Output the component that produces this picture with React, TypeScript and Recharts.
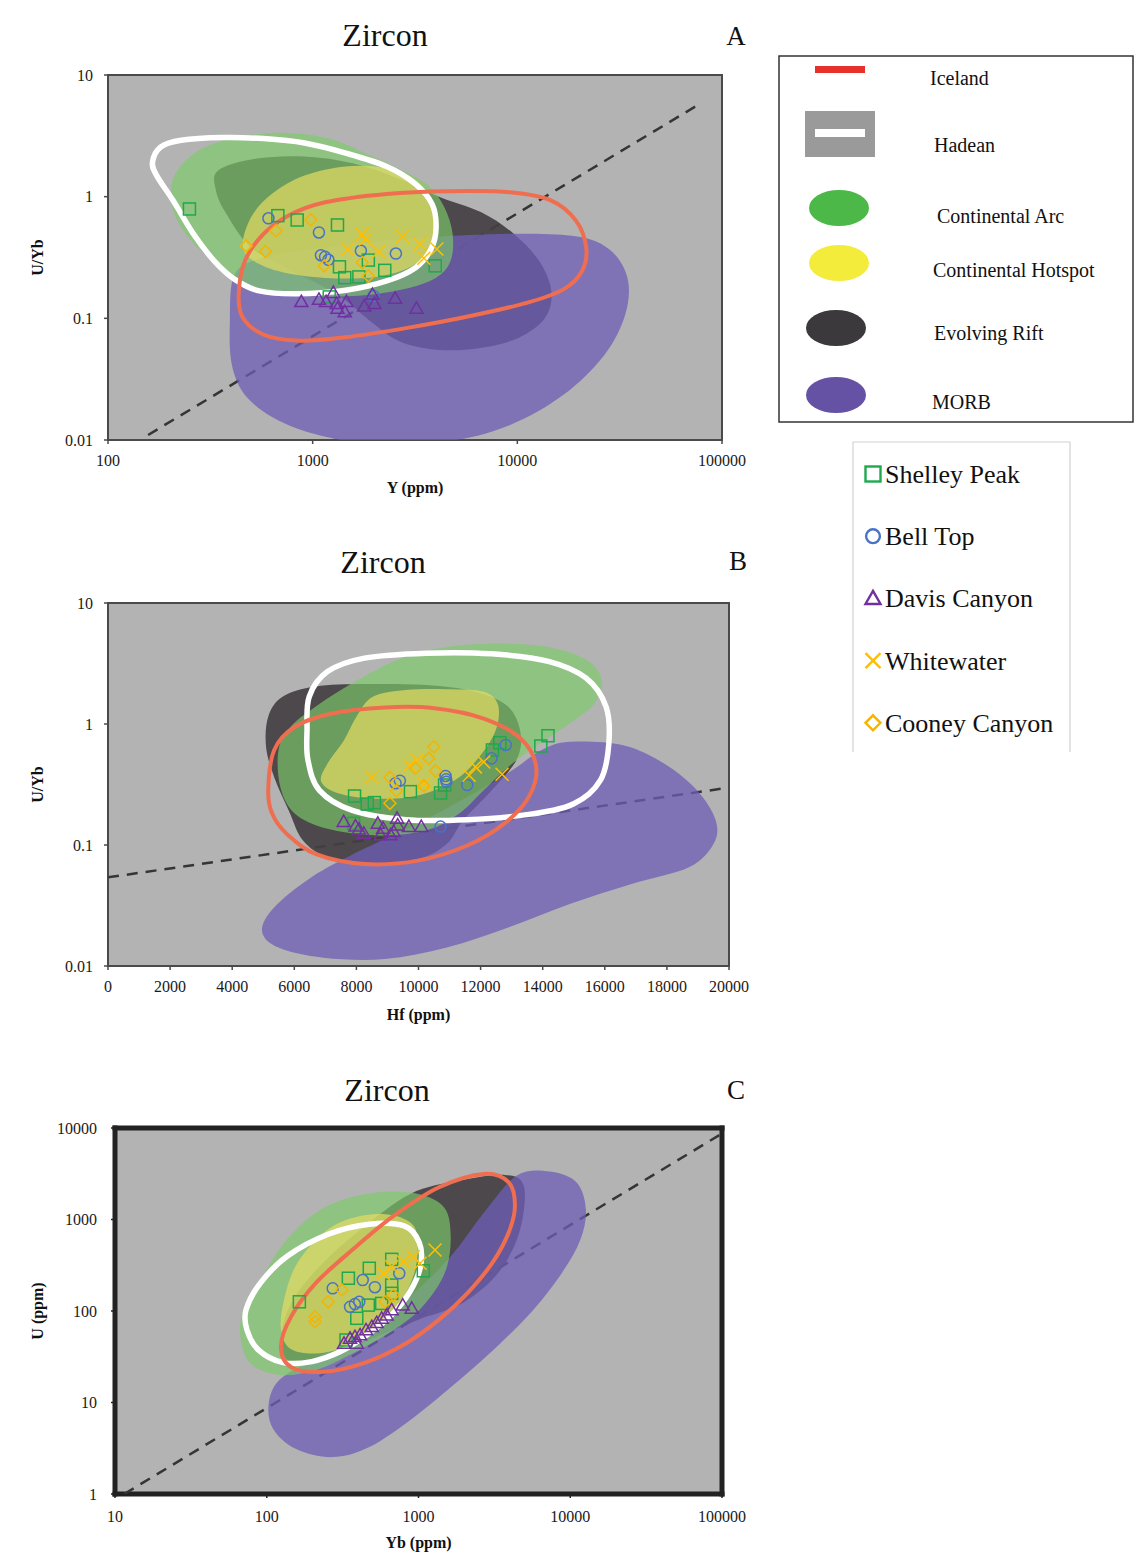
import React from 'react';
import { ScatterChart, Scatter, XAxis, YAxis, CartesianGrid, Label } from 'recharts';

type Pt = [number, number];

// ---------- Panel A : U/Yb vs Y (ppm) ----------
const aRift: Pt[] = [[345, 1.64], [524, 2.05], [912, 2.14], [1590, 1.87], [2770, 1.36], [4200, 0.99], [6670, 0.744], [9660, 0.492], [12760, 0.297], [14660, 0.168], [13680, 0.101], [10120, 0.069], [6370, 0.0564], [4010, 0.0553], [2650, 0.0649], [1915, 0.0948], [1320, 0.157], [795, 0.245], [500, 0.382], [379, 0.721], [337, 1.12]];
const aMorb: Pt[] = [[416, 0.23], [574, 0.316], [1150, 0.382], [2900, 0.448], [7330, 0.492], [18450, 0.477], [28000, 0.371], [34500, 0.216], [33700, 0.108], [26700, 0.0503], [16800, 0.0235], [9220, 0.0133], [4610, 0.0098], [1830, 0.0094], [832, 0.0125], [500, 0.0207], [406, 0.0391], [394, 0.0948]];
const aArc: Pt[] = [[203, 1.05], [218, 1.64], [287, 2.48], [456, 3.14], [759, 3.34], [1205, 3.0], [1830, 2.25], [2650, 1.69], [3660, 1.24], [4400, 0.818], [4830, 0.492], [4720, 0.297], [4010, 0.216], [2770, 0.173], [1670, 0.153], [912, 0.153], [548, 0.168], [379, 0.245], [274, 0.382], [218, 0.635]];
const aHotspot: Pt[] = [[456, 0.382], [500, 0.676], [631, 1.05], [912, 1.49], [1450, 1.77], [2200, 1.73], [3040, 1.45], [3740, 0.99], [3970, 0.635], [3790, 0.407], [3180, 0.279], [2200, 0.223], [1320, 0.213], [795, 0.23], [548, 0.279]];
const aHadean: Pt[] = [[165, 1.92], [181, 2.56], [228, 2.91], [362, 3.06], [574, 3.0], [912, 2.76], [1450, 2.28], [2300, 1.77], [3180, 1.27], [3830, 0.872], [4010, 0.559], [3790, 0.371], [3180, 0.261], [2300, 0.203], [1450, 0.17], [832, 0.159], [548, 0.168], [416, 0.209], [330, 0.297], [262, 0.492], [208, 0.929], [173, 1.49]];
const aIceland: Pt[] = [[435, 0.157], [467, 0.297], [574, 0.492], [759, 0.698], [1150, 0.9], [2300, 1.054], [4610, 1.109], [9220, 1.088], [14660, 0.929], [19340, 0.635], [21700, 0.382], [20700, 0.245], [16800, 0.173], [11100, 0.134], [5810, 0.104], [2900, 0.0835], [1450, 0.07], [832, 0.0656], [574, 0.0736], [456, 0.101]];
const aTrend: Pt[] = [[157, 0.011], [78000, 5.8]];
const aShelley: Pt[] = [[250, 0.792], [676, 0.698], [840, 0.643], [1322, 0.585], [1352, 0.265], [1435, 0.216], [1682, 0.219], [1871, 0.301], [2250, 0.248], [3972, 0.27], [1205, 0.15]];
const aBell: Pt[] = [[608, 0.664], [1073, 0.508], [1098, 0.33], [1150, 0.32], [1194, 0.303], [1720, 0.359], [2550, 0.341], [1986, 0.1525]];
const aDavis: Pt[] = [[880, 0.137], [1073, 0.143], [1262, 0.163], [1162, 0.137], [1309, 0.132], [1462, 0.137], [1322, 0.121], [1435, 0.113], [1787, 0.126], [1960, 0.157], [2005, 0.132], [2527, 0.146], [3214, 0.121]];
const aWhitewater: Pt[] = [[1745, 0.492], [1812, 0.448], [1483, 0.371], [2099, 0.354], [2746, 0.468], [3335, 0.407], [3492, 0.312], [4045, 0.371]];
const aCooney: Pt[] = [[473, 0.394], [588, 0.354], [661, 0.525], [979, 0.647], [1140, 0.27], [1745, 0.288], [1871, 0.223]];

// ---------- Panel B : U/Yb vs Hf (ppm) ----------
const bRift: Pt[] = [[5160, 1.15], [5620, 1.68], [6680, 2.04], [8260, 2.14], [10250, 2.1], [11830, 1.85], [12890, 1.39], [13290, 0.835], [13150, 0.502], [12360, 0.283], [11440, 0.16], [10910, 0.102], [9980, 0.0767], [8400, 0.0697], [7070, 0.0793], [6280, 0.109], [5820, 0.193], [5350, 0.365], [5090, 0.647]];
const bMorb: Pt[] = [[14870, 0.713], [16590, 0.668], [17910, 0.471], [18970, 0.283], [19570, 0.16], [19500, 0.102], [18710, 0.0655], [16860, 0.0476], [14870, 0.0325], [12890, 0.0208], [10910, 0.0142], [8920, 0.0114], [6940, 0.0117], [5490, 0.0142], [4960, 0.0195], [5350, 0.0305], [6540, 0.054], [8130, 0.09], [9980, 0.15], [11570, 0.249], [13020, 0.415], [13950, 0.607]];
const bArc: Pt[] = [[5490, 0.607], [5880, 0.948], [6680, 1.39], [7870, 2.17], [9190, 3.28], [10510, 4.16], [12230, 4.6], [14080, 4.37], [15400, 3.39], [15900, 2.31], [15670, 1.48], [14870, 1.01], [13820, 0.668], [12890, 0.442], [12100, 0.283], [11300, 0.181], [10250, 0.132], [8660, 0.12], [7070, 0.136], [6020, 0.181], [5550, 0.301]];
const bHotspot: Pt[] = [[8530, 1.68], [9590, 1.91], [10910, 1.94], [12100, 1.85], [12560, 1.44], [12490, 0.89], [11960, 0.535], [11170, 0.343], [9980, 0.257], [8660, 0.241], [7470, 0.265], [6870, 0.332], [7070, 0.471], [7600, 0.735], [8000, 1.15]];
const bHadean: Pt[] = [[6410, 0.89], [6480, 1.68], [7070, 2.71], [8260, 3.5], [10250, 3.85], [12360, 3.8], [14210, 3.28], [15400, 2.39], [16040, 1.39], [16130, 0.69], [15860, 0.343], [15000, 0.219], [13550, 0.179], [11570, 0.162], [9590, 0.162], [7870, 0.193], [6810, 0.283], [6440, 0.502]];
const bIceland: Pt[] = [[5160, 0.283], [5350, 0.607], [6020, 0.948], [7210, 1.22], [8920, 1.37], [10510, 1.35], [12100, 1.11], [13290, 0.759], [13790, 0.442], [13550, 0.249], [12760, 0.15], [11570, 0.099], [9980, 0.0743], [8260, 0.0697], [6680, 0.0844], [5750, 0.124], [5290, 0.181]];
const bTrend: Pt[] = [[0, 0.054], [19760, 0.292]];
const bShelley: Pt[] = [[7940, 0.254], [8350, 0.218], [8580, 0.224], [9740, 0.276], [10710, 0.269], [10840, 0.313], [12380, 0.61], [12620, 0.7], [13940, 0.658], [14170, 0.8], [7910, 0.151]];
const bBell: Pt[] = [[9400, 0.34], [9260, 0.324], [10870, 0.372], [10890, 0.349], [10900, 0.333], [11570, 0.313], [12350, 0.52], [12810, 0.671], [10710, 0.142]];
const bDavis: Pt[] = [[7590, 0.156], [7970, 0.1435], [8080, 0.135], [8690, 0.151], [8860, 0.1375], [9310, 0.166], [9330, 0.146], [9200, 0.129], [9690, 0.142], [10090, 0.142], [9100, 0.121], [8780, 0.121], [8240, 0.125]];
const bWhitewater: Pt[] = [[8500, 0.365], [9720, 0.456], [9960, 0.502], [10180, 0.321], [11630, 0.377], [11830, 0.442], [12100, 0.486], [12690, 0.384]];
const bCooney: Pt[] = [[9080, 0.363], [9080, 0.221], [9290, 0.281], [9900, 0.431], [10330, 0.52], [10490, 0.649], [10550, 0.411], [10170, 0.308]];

// ---------- Panel C : U (ppm) vs Yb (ppm) ----------
const cRift: Pt[] = [[883, 1900], [1860, 2660], [3700, 3070], [4890, 2440], [4890, 1100], [4180, 472], [3070, 221], [1860, 117], [1000, 80.4], [474, 48.4], [239, 29.2], [145, 26.8], [124, 48.4], [145, 122], [224, 310], [418, 783]];
const cMorb: Pt[] = [[4450, 3020], [7330, 3340], [10980, 2550], [12670, 1300], [11690, 608], [8830, 262], [5720, 103], [3470, 44.5], [1860, 17.6], [940, 6.96], [474, 3.26], [271, 2.53], [155, 3.12], [110, 5.18], [103, 9.75], [121, 17.6], [198, 29.2], [418, 57.3], [883, 145], [1640, 399], [2700, 1190]];
const cArc: Pt[] = [[198, 1100], [326, 1670], [608, 2010], [1065, 1850], [1500, 1300], [1630, 661], [1545, 310], [1280, 165], [940, 91.2], [608, 54.8], [370, 34.6], [211, 22.7], [121, 20], [78, 26.8], [67, 52.6], [71, 112], [94, 240], [128, 536]];
const cHotspot: Pt[] = [[224, 661], [347, 1010], [608, 1140], [910, 889], [988, 513], [940, 262], [780, 133], [571, 70.8], [370, 44.5], [224, 34.6], [145, 38.2], [124, 62.4], [130, 133], [155, 310]];
const cHadean: Pt[] = [[73, 103], [91, 203], [137, 399], [254, 690], [474, 889], [804, 851], [1013, 558], [1032, 310], [883, 165], [667, 91], [459, 55], [306, 36], [198, 28], [128, 27.3], [88, 37.6], [74, 62.4]];
const cIceland: Pt[] = [[2700, 3150], [3930, 2550], [4320, 1410], [3930, 719], [3070, 337], [2110, 158], [1365, 80.4], [830, 44.5], [445, 27.3], [239, 21.7], [145, 24.3], [124, 40.9], [145, 87.4], [211, 203], [370, 472], [689, 1100], [1365, 2250]];
const cTrend: Pt[] = [[11.5, 1], [100000, 8700]];
const cShelley: Pt[] = [[164, 126], [345, 228], [474, 293], [666, 367], [1076, 275], [666, 192], [666, 156], [467, 116], [572, 121], [392, 83.2], [333, 48.2]];
const cBell: Pt[] = [[272, 177], [429, 218], [516, 182], [747, 258], [354, 111], [381, 119], [407, 126]];
const cDavis: Pt[] = [[323, 44.4], [354, 50.3], [381, 52.4], [412, 54.7], [451, 62], [492, 67.4], [530, 74.5], [572, 83.2], [617, 90.4], [666, 103], [787, 116], [902, 107], [392, 44.4]];
const cWhitewater: Pt[] = [[586, 258], [666, 305], [794, 346], [924, 392], [1024, 332], [1284, 464]];
const cCooney: Pt[] = [[208, 86.6], [208, 76.4], [254, 126], [313, 170], [601, 126], [682, 150]];

// ---------- ticks and labels ----------
const uybTicks = [0.01, 0.1, 1, 10];
const yTicksA = [100, 1000, 10000, 100000];
const hfTicks = [0, 2000, 4000, 6000, 8000, 10000, 12000, 14000, 16000, 18000, 20000];
const ybTicks = [10, 100, 1000, 10000, 100000];
const uTicks = [1, 10, 100, 1000, 10000];

const fieldLegend = ['Iceland', 'Hadean', 'Continental Arc', 'Continental Hotspot', 'Evolving Rift', 'MORB'];
const sampleNames = ['Shelley Peak', 'Bell Top', 'Davis Canyon', 'Whitewater', 'Cooney Canyon'];

const FONT = "'Liberation Serif', 'Times New Roman', Times, serif";

const SAMPLE_STYLE = [
  { kind: 'square', color: '#1fa84c' },
  { kind: 'circle', color: '#4a72c6' },
  { kind: 'triangle', color: '#7030a0' },
  { kind: 'cross', color: '#ffbf00' },
  { kind: 'diamond', color: '#f5b400' },
];

type FieldKey = 'rift' | 'morb' | 'arc' | 'hotspot' | 'hadean' | 'iceland';
const FIELD_ORDER: FieldKey[] = ['rift', 'morb', 'arc', 'hotspot', 'hadean', 'iceland'];
const FIELD_STYLE: Record<FieldKey, any> = {
  rift: { fill: '#433f42', fillOpacity: 0.92 },
  morb: { fill: '#6e5eb7', fillOpacity: 0.75 },
  arc: { fill: '#7ccd69', fillOpacity: 0.65 },
  hotspot: { fill: '#e6db62', fillOpacity: 0.7 },
  hadean: { fill: 'none', stroke: '#ffffff', strokeWidth: 5.5 },
  iceland: { fill: 'none', stroke: '#f06e50', strokeWidth: 4 },
};

const toXY = (a: Pt[]) => a.map(([x, y]) => ({ x, y }));

// closed Catmull-Rom path through the points the scatter has already scaled
function smoothClosed(pts: { x: number; y: number }[]) {
  const n = pts ? pts.length : 0;
  if (!n) return '';
  let d = `M${pts[0].x},${pts[0].y}`;
  for (let i = 0; i < n; i++) {
    const p0 = pts[(i - 1 + n) % n];
    const p1 = pts[i];
    const p2 = pts[(i + 1) % n];
    const p3 = pts[(i + 2) % n];
    const c1x = p1.x + (p2.x - p0.x) / 6;
    const c1y = p1.y + (p2.y - p0.y) / 6;
    const c2x = p2.x - (p3.x - p1.x) / 6;
    const c2y = p2.y - (p3.y - p1.y) / 6;
    d += `C${c1x},${c1y} ${c2x},${c2y} ${p2.x},${p2.y}`;
  }
  return d + 'Z';
}

const blobLine = (style: any) => (props: any) => (
  <path d={smoothClosed(props.points)} strokeLinejoin="round" {...style} />
);

const empty = () => <g />;

function marker(kind: string, color: string, cx: number, cy: number, s: number, sw: number) {
  const h = s / 2;
  const common = { fill: 'none', stroke: color, strokeWidth: sw };
  switch (kind) {
    case 'square':
      return <rect x={cx - h} y={cy - h} width={s} height={s} {...common} />;
    case 'circle':
      return <circle cx={cx} cy={cy} r={h * 0.92} {...common} />;
    case 'triangle':
      return <path d={`M${cx},${cy - h}L${cx + h},${cy + h * 0.75}L${cx - h},${cy + h * 0.75}Z`} strokeLinejoin="miter" {...common} />;
    case 'cross':
      return <path d={`M${cx - h},${cy - h}L${cx + h},${cy + h}M${cx + h},${cy - h}L${cx - h},${cy + h}`} {...common} />;
    default:
      return <path d={`M${cx},${cy - h}L${cx + h},${cy}L${cx},${cy + h}L${cx - h},${cy}Z`} {...common} />;
  }
}

interface PanelSpec {
  top: number;
  height: number;
  margin: { top: number; right: number; bottom: number; left: number };
  yWidth: number;
  xHeight: number;
  xScale: 'log' | 'linear';
  xDomain: [number, number];
  xTicks: number[];
  yDomain: [number, number];
  yTicks: number[];
  xLabel: string;
  yLabel: string;
  xLabelOffset: number;
  xTickMargin: number;
  yTickMargin: number;
  frameColor: string;
  frameWidth: number;
}

interface PanelProps {
  spec: PanelSpec;
  fields: Record<FieldKey, Pt[]>;
  trend: Pt[];
  samples: Pt[][];
}

const Panel: React.FC<PanelProps> = ({ spec, fields, trend, samples }) => {
  const tickFont = { fontFamily: FONT, fontSize: 16, fill: '#1a1a1a' };
  const frame = { stroke: spec.frameColor, strokeWidth: spec.frameWidth, strokeLinecap: 'square' as const };
  const tickLine = { stroke: spec.frameColor, strokeWidth: 1.5 };
  // the top / right axes are 1px deep, so the margins lose that pixel
  const margin = { ...spec.margin, top: spec.margin.top - 1, right: spec.margin.right - 1 };
  return (
    <div style={{ position: 'absolute', left: 0, top: spec.top }}>
      <ScatterChart width={760} height={spec.height} margin={margin}>
        <CartesianGrid horizontal={false} vertical={false} fill="#b3b3b3" fillOpacity={1} stroke="none" />
        <XAxis
          dataKey="x"
          type="number"
          scale={spec.xScale}
          domain={spec.xDomain}
          ticks={spec.xTicks}
          interval={0}
          allowDataOverflow
          height={spec.xHeight}
          axisLine={frame}
          tickLine={tickLine}
          tickSize={4}
          tickMargin={spec.xTickMargin}
          tick={tickFont}
        >
          <Label
            value={spec.xLabel}
            position="insideBottom"
            offset={spec.xLabelOffset}
            fontFamily={FONT}
            fontSize={16}
            fontWeight={700}
            fill="#111"
          />
        </XAxis>
        <XAxis
          xAxisId="top"
          dataKey="x"
          orientation="top"
          type="number"
          scale={spec.xScale}
          domain={spec.xDomain}
          ticks={spec.xTicks}
          interval={0}
          allowDataOverflow
          height={1}
          axisLine={frame}
          tickLine={tickLine}
          tickSize={4}
          tick={false}
        />
        <YAxis
          dataKey="y"
          type="number"
          scale="log"
          domain={spec.yDomain}
          ticks={spec.yTicks}
          interval={0}
          allowDataOverflow
          width={spec.yWidth}
          axisLine={frame}
          tickLine={tickLine}
          tickSize={4}
          tickMargin={spec.yTickMargin}
          tick={tickFont}
        >
          <Label
            value={spec.yLabel}
            angle={-90}
            position="insideLeft"
            offset={4}
            fontFamily={FONT}
            fontSize={16}
            fontWeight={700}
            fill="#111"
            style={{ textAnchor: 'middle' }}
          />
        </YAxis>
        <YAxis
          yAxisId="right"
          dataKey="y"
          orientation="right"
          type="number"
          scale="log"
          domain={spec.yDomain}
          ticks={spec.yTicks}
          interval={0}
          allowDataOverflow
          width={1}
          axisLine={frame}
          tickLine={tickLine}
          tickSize={4}
          tick={false}
        />
        <Scatter
          xAxisId="top"
          yAxisId="right"
          data={toXY(trend)}
          shape={empty}
          line={{ stroke: '#353535', strokeWidth: 2.5, strokeDasharray: '11 8' }}
          isAnimationActive={false}
        />
        {FIELD_ORDER.map((k) => (
          <Scatter key={k} data={toXY(fields[k])} shape={empty} line={blobLine(FIELD_STYLE[k])} isAnimationActive={false} />
        ))}
        {SAMPLE_STYLE.map((s, i) => (
          <Scatter
            key={sampleNames[i]}
            name={sampleNames[i]}
            data={toXY(samples[i])}
            shape={(p: any) => marker(s.kind, s.color, p.cx, p.cy, s.kind === 'triangle' || s.kind === 'cross' ? 13 : 12, 1.5)}
            isAnimationActive={false}
          />
        ))}
      </ScatterChart>
    </div>
  );
};

const specA: PanelSpec = {
  top: 0, height: 510, margin: { top: 75, right: 38, bottom: 8, left: 33 }, yWidth: 75, xHeight: 62,
  xScale: 'log', xDomain: [100, 100000], xTicks: yTicksA, yDomain: [0.01, 10], yTicks: uybTicks,
  xLabel: 'Y (ppm)', yLabel: 'U/Yb', xLabelOffset: 9, xTickMargin: 11, yTickMargin: 11,
  frameColor: '#4a4a4a', frameWidth: 2,
};
const specB: PanelSpec = {
  top: 528, height: 510, margin: { top: 75, right: 31, bottom: 10, left: 33 }, yWidth: 75, xHeight: 62,
  xScale: 'linear', xDomain: [0, 20000], xTicks: hfTicks, yDomain: [0.01, 10], yTicks: uybTicks,
  xLabel: 'Hf (ppm)', yLabel: 'U/Yb', xLabelOffset: 8, xTickMargin: 11, yTickMargin: 11,
  frameColor: '#4a4a4a', frameWidth: 2,
};
const specC: PanelSpec = {
  top: 1055, height: 502, margin: { top: 73, right: 38, bottom: 3, left: 33 }, yWidth: 82, xHeight: 60,
  xScale: 'log', xDomain: [10, 100000], xTicks: ybTicks, yDomain: [1, 10000], yTicks: uTicks,
  xLabel: 'Yb (ppm)', yLabel: 'U (ppm)', xLabelOffset: 6, xTickMargin: 13, yTickMargin: 14,
  frameColor: '#222222', frameWidth: 5,
};

const legendFill = ['#4cb847', '#f4ec3a', '#3b393b', '#6552a5'];

const App: React.FC = () => {
  return (
    <div style={{ position: 'absolute', left: 0, top: 0, width: 1134, height: 1557, background: '#fff' }}>
      <Panel
        spec={specA}
        fields={{ rift: aRift, morb: aMorb, arc: aArc, hotspot: aHotspot, hadean: aHadean, iceland: aIceland }}
        trend={aTrend}
        samples={[aShelley, aBell, aDavis, aWhitewater, aCooney]}
      />
      <Panel
        spec={specB}
        fields={{ rift: bRift, morb: bMorb, arc: bArc, hotspot: bHotspot, hadean: bHadean, iceland: bIceland }}
        trend={bTrend}
        samples={[bShelley, bBell, bDavis, bWhitewater, bCooney]}
      />
      <Panel
        spec={specC}
        fields={{ rift: cRift, morb: cMorb, arc: cArc, hotspot: cHotspot, hadean: cHadean, iceland: cIceland }}
        trend={cTrend}
        samples={[cShelley, cBell, cDavis, cWhitewater, cCooney]}
      />
      <svg
        width={1134}
        height={1557}
        style={{ position: 'absolute', left: 0, top: 0, pointerEvents: 'none' }}
        fontFamily={FONT}
        fill="#111"
      >
        <text x={385} y={46} fontSize={32} textAnchor="middle">Zircon</text>
        <text x={736} y={45} fontSize={27} textAnchor="middle">A</text>
        <text x={383} y={573} fontSize={32} textAnchor="middle">Zircon</text>
        <text x={738} y={570} fontSize={27} textAnchor="middle">B</text>
        <text x={387} y={1101} fontSize={32} textAnchor="middle">Zircon</text>
        <text x={736} y={1099} fontSize={27} textAnchor="middle">C</text>

        {/* field legend */}
        <rect x={779} y={56} width={354} height={366} fill="#fff" stroke="#333" strokeWidth={1.5} />
        <rect x={815} y={66} width={50} height={7} fill="#e8302a" />
        <rect x={805} y={111} width={70} height={46} fill="#9a9a9a" />
        <rect x={815} y={129} width={50} height={8} fill="#fff" />
        <ellipse cx={839} cy={208} rx={30} ry={18} fill={legendFill[0]} />
        <ellipse cx={839} cy={263} rx={30} ry={18} fill={legendFill[1]} />
        <ellipse cx={836} cy={328} rx={30} ry={18} fill={legendFill[2]} />
        <ellipse cx={836} cy={395} rx={30} ry={18} fill={legendFill[3]} />
        {fieldLegend.map((t, i) => (
          <text key={t} x={[930, 934, 937, 933, 934, 932][i]} y={[85, 152, 223, 277, 340, 409][i]} fontSize={20}>
            {t}
          </text>
        ))}

        {/* sample legend */}
        <path d="M853,752V442H1070V752" fill="none" stroke="#d2d2d2" strokeWidth={1.2} />
        {sampleNames.map((t, i) => {
          const cy = 474 + i * 62.2;
          return (
            <g key={t}>
              {marker(SAMPLE_STYLE[i].kind, SAMPLE_STYLE[i].color, 873, cy, 15, 2.4)}
              <text x={885} y={cy + 9} fontSize={26}>{t}</text>
            </g>
          );
        })}
      </svg>
    </div>
  );
};

export default App;
